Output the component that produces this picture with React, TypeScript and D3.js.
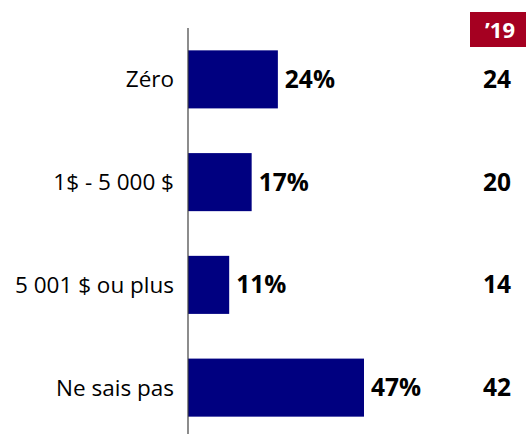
import React from "react";
import * as d3 from "d3";

const categories = ["Zéro", "1$ - 5 000 $", "5 001 $ ou plus", "Ne sais pas"];
const values2021 = [24, 17, 11, 47];
const values2019 = [24, 20, 14, 42];
const previousYearLabel = "\u201919";

const W = 526;
const H = 434;
const FONT = "'Open Sans', Lato, sans-serif";

export default function App() {
  const x = d3.scaleLinear().domain([0, 47]).range([188, 364]);
  const y = d3
    .scaleBand<string>()
    .domain(categories)
    .range([28, 439])
    .paddingInner(0.435)
    .paddingOuter(0.2175);

  return (
    <svg width={W} height={H} style={{ position: "absolute", left: 0, top: 0 }}>
      <rect x={0} y={0} width={W} height={H} fill="#ffffff" />
      {categories.map((c, i) => {
        const yc = (y(c) as number) + y.bandwidth() / 2;
        return (
          <g key={c}>
            <rect
              x={x(0)}
              y={y(c)}
              width={x(values2021[i]) - x(0)}
              height={y.bandwidth()}
              fill="#000080"
            />
            <text
              x={174}
              y={yc}
              dy="0.35em"
              textAnchor="end"
              fontFamily={FONT}
              fontSize={22.5}
              fill="#000"
            >
              {c}
            </text>
            <text
              x={x(values2021[i]) + 7}
              y={yc}
              dy="0.35em"
              fontFamily={FONT}
              fontWeight="bold"
              fontSize={24.5}
              fill="#000"
            >
              {values2021[i]}%
            </text>
            <text
              x={497}
              y={yc}
              dy="0.35em"
              textAnchor="middle"
              fontFamily={FONT}
              fontWeight="bold"
              fontSize={24.5}
              fill="#000"
            >
              {values2019[i]}
            </text>
          </g>
        );
      })}
      <line x1={188} x2={188} y1={28} y2={434} stroke="#404040" strokeWidth={1.2} />
      <rect x={470} y={12} width={56} height={35} fill="#A50021" />
      <text
        x={500}
        y={30}
        dy="0.35em"
        textAnchor="middle"
        fontFamily={FONT}
        fontWeight="bold"
        fontSize={22}
        fill="#ffffff"
      >
        {previousYearLabel}
      </text>
    </svg>
  );
}
